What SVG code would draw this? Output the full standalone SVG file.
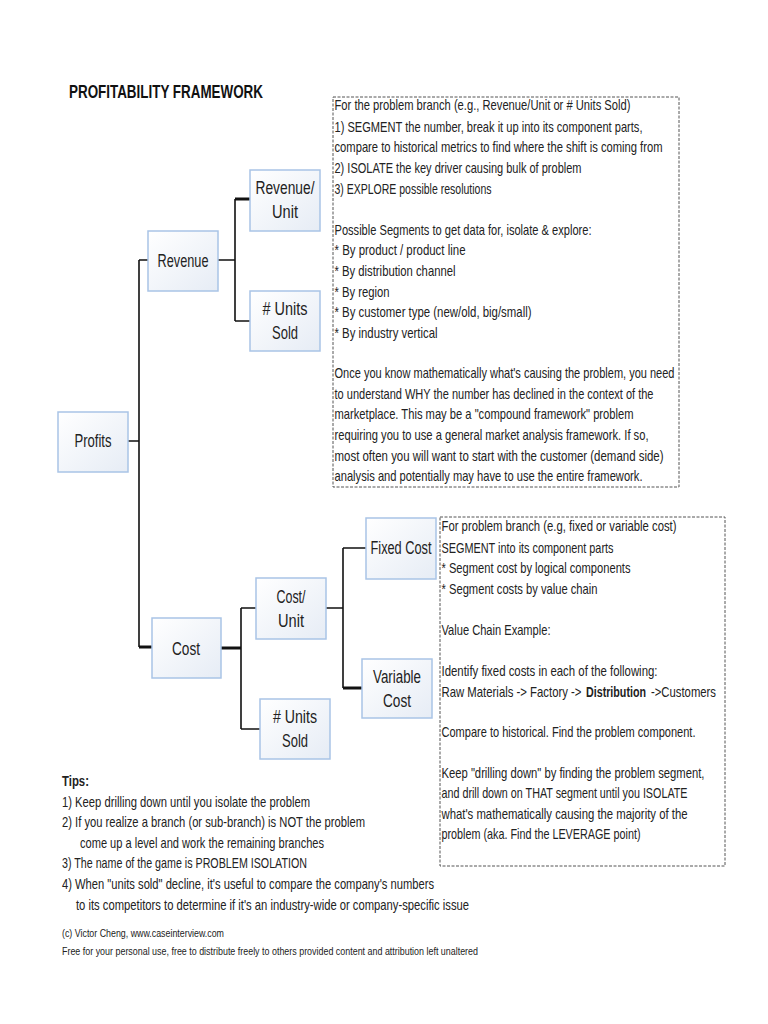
<svg xmlns="http://www.w3.org/2000/svg" width="768" height="1024" viewBox="0 0 768 1024">
<defs>
<linearGradient id="nodeFill" x1="0" y1="0" x2="1" y2="1">
<stop offset="0" stop-color="#ffffff"/>
<stop offset="1" stop-color="#e6ecf5"/>
</linearGradient>
</defs>
<style>
.node rect{fill:url(#nodeFill);stroke:#a9c4e6;stroke-width:1.5}
.node text{font-family:"Liberation Sans",Arial,sans-serif;font-size:17.5px;fill:#222;text-anchor:middle}
.conn{stroke:#111;stroke-width:1.6;fill:none}
.thick{stroke:#111;stroke-width:3;fill:none}
.note{fill:#fff;stroke:#555;stroke-width:1;stroke-dasharray:3 1.5}
.body{font-family:"Liberation Sans",Arial,sans-serif;font-size:14.5px;fill:#222}
.tips{font-family:"Liberation Sans",Arial,sans-serif;font-size:15px;fill:#222}
.foot{font-family:"Liberation Sans",Arial,sans-serif;font-size:11px;fill:#222}
.title{font-family:"Liberation Sans",Arial,sans-serif;font-size:17.5px;font-weight:bold;fill:#111}
</style>
<rect width="768" height="1024" fill="#ffffff"/>

<text class="title" x="69" y="98" textLength="194" lengthAdjust="spacingAndGlyphs">PROFITABILITY FRAMEWORK</text>

<g id="connectors">
<path class="conn" d="M128 441 H139 M139 260 V647 M139 260 H148"/>
<path class="thick" d="M139 647 H152"/>
<path class="conn" d="M218 260 H235 M235 199 V321 M235 321 H250"/>
<path class="thick" d="M235 199 H250"/>
<path class="thick" d="M221 648 H241"/>
<path class="conn" d="M241 608 V729 M241 608 H256 M241 729 H260"/>
<path class="conn" d="M326 608 H343 M343 548 V688 M343 548 H366"/>
<path class="thick" d="M343 688 H362"/>
</g>

<g id="profits" class="node">
<rect x="58" y="412" width="70" height="60"/>
<text x="93" y="447" textLength="37" lengthAdjust="spacingAndGlyphs">Profits</text>
</g>
<g id="revenue" class="node">
<rect x="148" y="231" width="70" height="60"/>
<text x="183" y="267" textLength="51" lengthAdjust="spacingAndGlyphs">Revenue</text>
</g>
<g id="revenue-unit" class="node">
<rect x="250" y="170" width="70" height="61"/>
<text x="285" y="194" textLength="59" lengthAdjust="spacingAndGlyphs">Revenue/</text>
<text x="285" y="218" textLength="26" lengthAdjust="spacingAndGlyphs">Unit</text>
</g>
<g id="revenue-units-sold" class="node">
<rect x="250" y="291" width="70" height="60"/>
<text x="285" y="315" textLength="45" lengthAdjust="spacingAndGlyphs"># Units</text>
<text x="285" y="339" textLength="26" lengthAdjust="spacingAndGlyphs">Sold</text>
</g>
<g id="cost" class="node">
<rect x="152" y="618" width="69" height="60"/>
<text x="186" y="655" textLength="28" lengthAdjust="spacingAndGlyphs">Cost</text>
</g>
<g id="cost-unit" class="node">
<rect x="256" y="578" width="70" height="61"/>
<text x="291" y="603" textLength="29" lengthAdjust="spacingAndGlyphs">Cost/</text>
<text x="291" y="627" textLength="26" lengthAdjust="spacingAndGlyphs">Unit</text>
</g>
<g id="cost-units-sold" class="node">
<rect x="260" y="699" width="70" height="60"/>
<text x="295" y="723" textLength="44" lengthAdjust="spacingAndGlyphs"># Units</text>
<text x="295" y="747" textLength="26" lengthAdjust="spacingAndGlyphs">Sold</text>
</g>
<g id="fixed-cost" class="node">
<rect x="366" y="518" width="70" height="61"/>
<text x="401" y="554" textLength="61" lengthAdjust="spacingAndGlyphs">Fixed Cost</text>
</g>
<g id="variable-cost" class="node">
<rect x="362" y="659" width="70" height="59"/>
<text x="397" y="683" textLength="48" lengthAdjust="spacingAndGlyphs">Variable</text>
<text x="397" y="707" textLength="28" lengthAdjust="spacingAndGlyphs">Cost</text>
</g>

<g id="revenue-notes">
<rect class="note" x="333" y="97" width="346" height="390"/>
<text class="body" x="334.5" y="110" textLength="296" lengthAdjust="spacingAndGlyphs">For the problem branch (e.g., Revenue/Unit or # Units Sold)</text>
<text class="body" x="334.5" y="132" textLength="308" lengthAdjust="spacingAndGlyphs">1) SEGMENT the number, break it up into its component parts,</text>
<text class="body" x="334.5" y="152" textLength="328" lengthAdjust="spacingAndGlyphs">compare to historical metrics to find where the shift is coming from</text>
<text class="body" x="334.5" y="173" textLength="247" lengthAdjust="spacingAndGlyphs">2) ISOLATE the key driver causing bulk of problem</text>
<text class="body" x="334.5" y="194" textLength="157" lengthAdjust="spacingAndGlyphs">3) EXPLORE possible resolutions</text>
<text class="body" x="334.5" y="235" textLength="257" lengthAdjust="spacingAndGlyphs">Possible Segments to get data for, isolate &amp; explore:</text>
<text class="body" x="334.5" y="255" textLength="131" lengthAdjust="spacingAndGlyphs">* By product / product line</text>
<text class="body" x="334.5" y="276" textLength="121" lengthAdjust="spacingAndGlyphs">* By distribution channel</text>
<text class="body" x="334.5" y="297" textLength="55" lengthAdjust="spacingAndGlyphs">* By region</text>
<text class="body" x="334.5" y="317" textLength="197" lengthAdjust="spacingAndGlyphs">* By customer type (new/old, big/small)</text>
<text class="body" x="334.5" y="338" textLength="103" lengthAdjust="spacingAndGlyphs">* By industry vertical</text>
<text class="body" x="334.5" y="378" textLength="340" lengthAdjust="spacingAndGlyphs">Once you know mathematically what's causing the problem, you need</text>
<text class="body" x="334.5" y="399" textLength="319" lengthAdjust="spacingAndGlyphs">to understand WHY the number has declined in the context of the</text>
<text class="body" x="334.5" y="419" textLength="299" lengthAdjust="spacingAndGlyphs">marketplace.  This may be a "compound framework" problem</text>
<text class="body" x="334.5" y="440" textLength="314" lengthAdjust="spacingAndGlyphs">requiring you to use a general market analysis framework. If so,</text>
<text class="body" x="334.5" y="461" textLength="329" lengthAdjust="spacingAndGlyphs">most often you will want to start with the customer (demand side)</text>
<text class="body" x="334.5" y="481" textLength="308" lengthAdjust="spacingAndGlyphs">analysis and potentially may have to use the entire framework.</text>
</g>

<g id="cost-notes">
<rect class="note" x="440" y="517" width="285" height="349"/>
<text class="body" x="441.5" y="531" textLength="235" lengthAdjust="spacingAndGlyphs">For problem branch (e.g, fixed or variable cost)</text>
<text class="body" x="441.5" y="553" textLength="172" lengthAdjust="spacingAndGlyphs">SEGMENT into its component parts</text>
<text class="body" x="441.5" y="573" textLength="189" lengthAdjust="spacingAndGlyphs">* Segment cost by logical components</text>
<text class="body" x="441.5" y="594" textLength="156" lengthAdjust="spacingAndGlyphs">* Segment costs by value chain</text>
<text class="body" x="441.5" y="635" textLength="109" lengthAdjust="spacingAndGlyphs">Value Chain Example:</text>
<text class="body" x="441.5" y="676" textLength="216" lengthAdjust="spacingAndGlyphs">Identify fixed costs in each of the following:</text>
<text class="body" x="441.5" y="697" textLength="140" lengthAdjust="spacingAndGlyphs">Raw Materials -&gt; Factory -&gt;</text>
<text class="body" x="586" y="697" font-weight="bold" textLength="60" lengthAdjust="spacingAndGlyphs">Distribution</text>
<text class="body" x="651" y="697" textLength="65" lengthAdjust="spacingAndGlyphs">-&gt;Customers</text>
<text class="body" x="441.5" y="737" textLength="254" lengthAdjust="spacingAndGlyphs">Compare to historical. Find the problem component.</text>
<text class="body" x="441.5" y="778" textLength="263" lengthAdjust="spacingAndGlyphs">Keep "drilling down" by finding the problem segment,</text>
<text class="body" x="441.5" y="798" textLength="246" lengthAdjust="spacingAndGlyphs">and drill down on THAT segment until you ISOLATE</text>
<text class="body" x="441.5" y="819" textLength="246" lengthAdjust="spacingAndGlyphs">what's mathematically causing the majority of the</text>
<text class="body" x="441.5" y="839" textLength="199" lengthAdjust="spacingAndGlyphs">problem (aka. Find the LEVERAGE point)</text>
</g>

<g id="tips">
<text class="tips" x="62" y="786" font-weight="bold" textLength="27" lengthAdjust="spacingAndGlyphs">Tips:</text>
<text class="tips" x="62" y="807" textLength="248" lengthAdjust="spacingAndGlyphs">1) Keep drilling down until you isolate the problem</text>
<text class="tips" x="62" y="827" textLength="303" lengthAdjust="spacingAndGlyphs">2) If you realize a branch (or sub-branch) is NOT the problem</text>
<text class="tips" x="80" y="848" textLength="244" lengthAdjust="spacingAndGlyphs">come up a level and work the remaining branches</text>
<text class="tips" x="62" y="868" textLength="245" lengthAdjust="spacingAndGlyphs">3) The name of the game is PROBLEM ISOLATION</text>
<text class="tips" x="62" y="889" textLength="372" lengthAdjust="spacingAndGlyphs">4) When "units sold" decline, it's useful to compare the company's numbers</text>
<text class="tips" x="76" y="910" textLength="393" lengthAdjust="spacingAndGlyphs">to its competitors to determine if it's an industry-wide or company-specific issue</text>
</g>

<g id="footer">
<text class="foot" x="62" y="937" textLength="162" lengthAdjust="spacingAndGlyphs">(c) Victor Cheng, www.caseinterview.com</text>
<text class="foot" x="62" y="955" textLength="416" lengthAdjust="spacingAndGlyphs">Free for your personal use, free to distribute freely to others provided content and attribution left unaltered</text>
</g>
</svg>
